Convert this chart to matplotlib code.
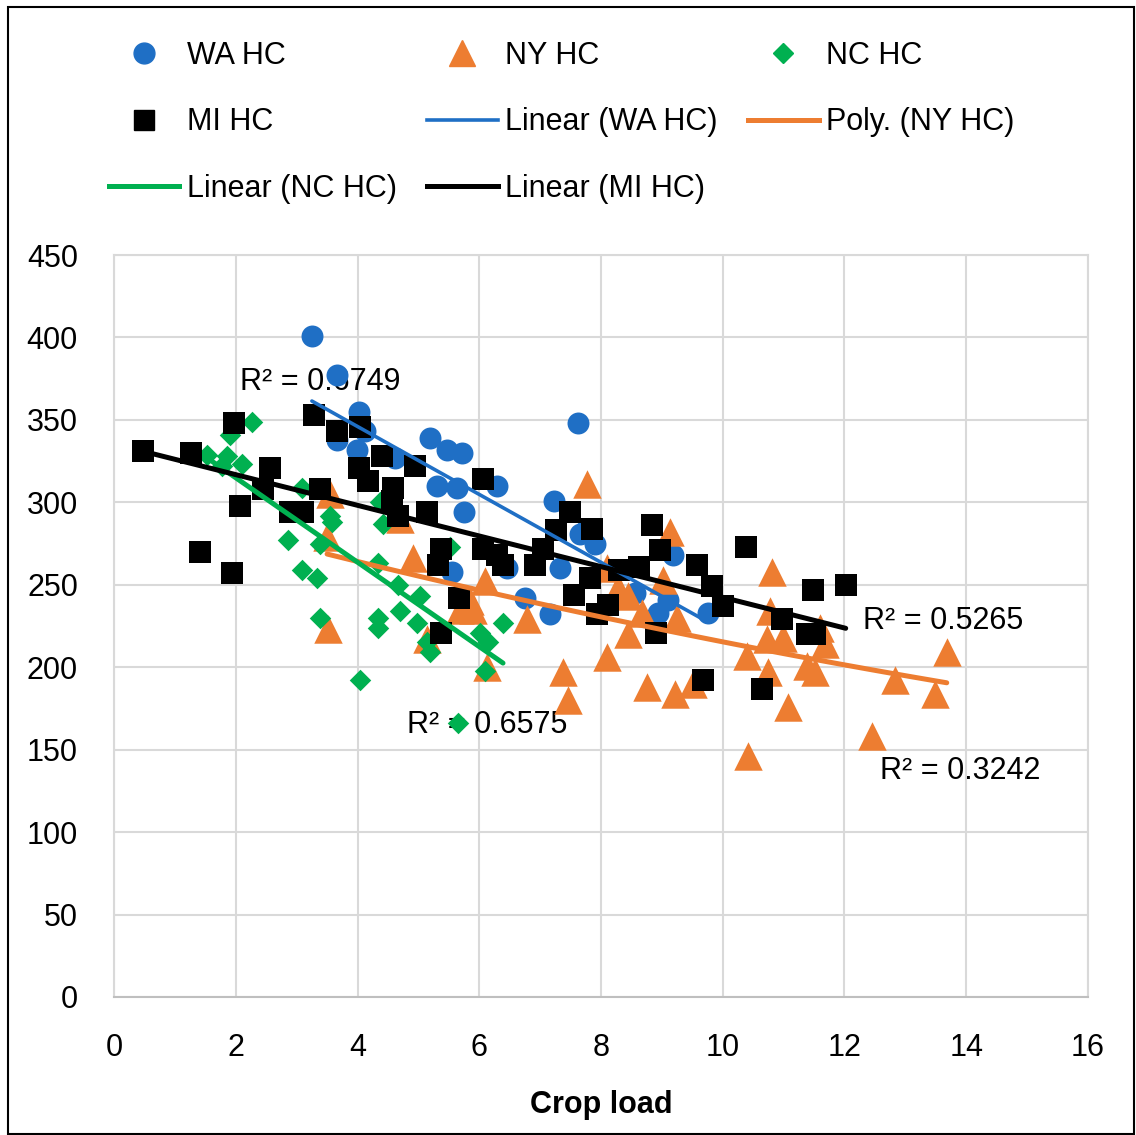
import matplotlib
matplotlib.use("Agg")
import matplotlib.pyplot as plt
import numpy as np
from matplotlib.lines import Line2D
from matplotlib.patches import Rectangle

# --- data ---
wa_x = [3.25, 3.66, 4.02, 4.12, 3.66, 3.99, 4.62, 5.19, 5.47, 5.72, 5.31, 5.63, 6.29, 5.75,
        7.62, 7.23, 7.65, 7.75, 7.90, 7.33, 9.18, 8.56, 9.10, 8.94, 9.76, 7.16, 6.75, 5.55, 6.46]
wa_y = [401, 377, 355, 343, 338, 332, 327, 339, 332, 330, 310, 309, 310, 294,
        348, 301, 281, 283, 275, 260, 268, 245, 241, 233, 233, 232, 242, 258, 260]

ny_x = [3.55, 3.50, 3.51, 4.70, 4.91, 5.14, 5.68, 5.90, 6.09, 6.13, 5.85, 6.78, 7.38, 7.46,
        7.77, 9.13, 8.10, 9.02, 8.28, 8.44, 8.67, 9.25, 8.44, 8.10, 8.76, 9.22, 9.51, 10.81,
        10.78, 10.99, 10.73, 10.40, 10.74, 11.38, 11.52, 11.68, 11.60, 11.07, 13.68, 12.83,
        13.49, 12.45, 10.41]
ny_y = [305, 279, 223, 290, 266, 217, 235, 235, 252, 200, 240, 229, 197, 180,
        311, 282, 260, 253, 248, 243, 233, 230, 220, 206, 188, 184, 190, 258,
        234, 218, 217, 207, 197, 201, 197, 214, 224, 176, 209, 192,
        184, 158, 146]

nc_x = [2.27, 1.91, 1.53, 1.85, 2.10, 3.09, 2.86, 3.55, 3.58, 4.37, 4.42, 3.38, 3.09, 3.33,
        3.38, 4.34, 4.34, 4.34, 4.70, 4.67, 5.03, 4.98, 5.14, 5.19, 6.01, 6.14, 6.39, 6.09,
        4.04, 5.65, 5.52, 2.45, 1.78]
nc_y = [349, 341, 329, 328, 323, 309, 277, 292, 288, 300, 287, 275, 259, 254,
        230, 263, 230, 224, 234, 250, 243, 227, 215, 209, 221, 215, 227, 198,
        192, 166, 273, 310, 322]

mi_x = [0.48, 1.27, 1.41, 1.97, 1.94, 2.07, 2.56, 2.45, 2.89, 3.10, 3.28, 3.39, 3.66, 4.02,
        4.17, 4.04, 4.40, 4.58, 4.57, 4.67, 4.94, 5.14, 5.37, 5.32, 5.37, 5.67, 6.06, 6.06,
        6.29, 6.39, 6.92, 7.05, 7.26, 7.49, 7.56, 7.82, 7.85, 7.93, 8.11, 8.30, 8.63, 8.84,
        8.97, 8.90, 9.57, 9.67, 9.82, 10.00, 10.38, 10.64, 10.97, 11.38, 11.48, 11.52, 12.02]
mi_y = [331, 330, 270, 348, 257, 298, 321, 308, 294, 294, 353, 308, 343, 321,
        313, 346, 328, 309, 301, 292, 322, 294, 272, 262, 221, 242, 314, 272,
        268, 262, 262, 272, 283, 294, 244, 254, 284, 232, 238, 259, 261, 286,
        271, 221, 262, 192, 249, 237, 273, 187, 229, 220, 247, 220, 250]

# trendline coefficients (highest power first), as shown in the chart
wa_fit = [-20.6, 428.4]
ny_fit = [0.142, -10.11, 302.3]
nc_fit = [-25.6, 366.1]
mi_fit = [-9.30, 335.4]

r2_labels = ["R² = 0.6749", "R² = 0.5265", "R² = 0.6575", "R² = 0.3242"]
r2_pos = [(2.07, 373), (12.3, 228), (4.81, 165), (12.58, 137)]

BLUE = "#1F6FC5"
ORANGE = "#ED7D31"
GREEN = "#00B050"
BLACK = "#000000"
GRID = "#D9D9D9"

plt.rcParams["font.family"] = ["Liberation Sans", "DejaVu Sans"]

fig = plt.figure(figsize=(11.36, 11.35), dpi=100)
ax = fig.add_axes([0.1004, 0.1216, 0.8573, 0.6537])

ax.scatter(wa_x, wa_y, s=250, marker="o", color=BLUE, linewidths=0, zorder=3)
ax.scatter(ny_x, ny_y, s=420, marker="^", color=ORANGE, linewidths=0, zorder=3)
ax.scatter(nc_x, nc_y, s=120, marker="D", color=GREEN, linewidths=0, zorder=3)
ax.scatter(mi_x, mi_y, s=270, marker="s", color=BLACK, linewidths=0, zorder=3)

# trendlines over each series' x range
def trend(xs, coefs, color, lw):
    xx = np.linspace(min(xs), max(xs), 100)
    ax.plot(xx, np.polyval(coefs, xx), color=color, lw=lw, zorder=4,
            solid_capstyle="round")

trend(wa_x, wa_fit, BLUE, 2.6)
trend(ny_x, ny_fit, ORANGE, 3.6)
trend(nc_x, nc_fit, GREEN, 3.6)
trend(mi_x, mi_fit, BLACK, 3.6)

for lab, (tx, ty) in zip(r2_labels, r2_pos):
    ax.text(tx, ty, lab, fontsize=22, va="center", ha="left", zorder=2)

ax.set_xlim(0, 16)
ax.set_ylim(0, 450)
ax.set_xticks(np.arange(0, 17, 2))
ax.set_yticks(np.arange(0, 451, 50))
ax.grid(True, color=GRID, lw=1.5, zorder=0)
ax.set_axisbelow(True)
for sp in ax.spines.values():
    sp.set_color(GRID)
    sp.set_linewidth(1.5)
ax.spines["bottom"].set_color("#BFBFBF")
ax.tick_params(length=0, labelsize=22)
ax.tick_params(axis="x", pad=26)
ax.tick_params(axis="y", pad=26)

fig.text(601 / 1136, 1 - 1105 / 1135, "Crop load", fontsize=22, fontweight="bold",
         ha="center", va="center")

# legend (column-wise order so rows read like the original)
h_wa = Line2D([], [], ls="none", marker="o", ms=15, color=BLUE)
h_ny = Line2D([], [], ls="none", marker="^", ms=19, color=ORANGE)
h_nc = Line2D([], [], ls="none", marker="D", ms=10, color=GREEN)
h_mi = Line2D([], [], ls="none", marker="s", ms=15, color=BLACK)
l_wa = Line2D([], [], color=BLUE, lw=2.6)
l_ny = Line2D([], [], color=ORANGE, lw=3.6)
l_nc = Line2D([], [], color=GREEN, lw=3.6)
l_mi = Line2D([], [], color=BLACK, lw=3.6)
handles = [h_wa, h_mi, l_nc, h_ny, l_wa, l_mi, h_nc, l_ny]
labels = ["WA HC", "MI HC", "Linear (NC HC)", "NY HC", "Linear (WA HC)",
          "Linear (MI HC)", "NC HC", "Poly. (NY HC)"]
fig.legend(handles, labels, ncol=3, loc="upper left", bbox_to_anchor=(0.085, 0.975),
           frameon=False, fontsize=22, handlelength=2.3, handletextpad=0.25,
           columnspacing=1.0, labelspacing=1.2, borderaxespad=0)

# outer border
fig.patches.append(Rectangle((0.007, 0.001), 0.991, 0.993, transform=fig.transFigure,
                             fill=False, edgecolor="black", lw=1.5))

fig.savefig("out.png", dpi=100)
